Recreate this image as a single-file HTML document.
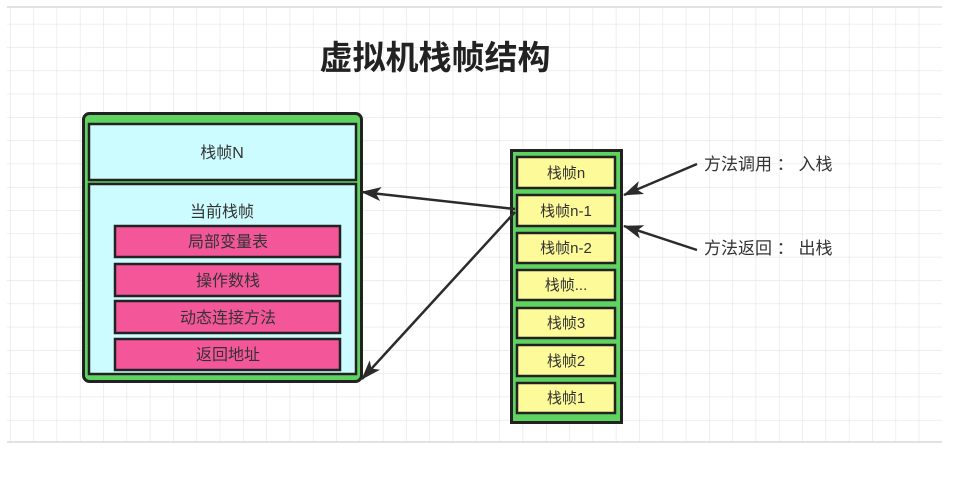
<!DOCTYPE html>
<html><head><meta charset="utf-8"><style>
body{margin:0;background:#fff;}
svg text{font-family:"Liberation Sans","Noto Sans CJK SC",sans-serif;}
</style></head><body>
<svg width="953" height="485" viewBox="0 0 953 485" xmlns="http://www.w3.org/2000/svg">
<defs>
<pattern id="g" x="10" y="0.5" width="23.3" height="23.3" patternUnits="userSpaceOnUse">
<path d="M0 0V23.3M0 0H23.3" stroke="#e4e4e4" stroke-width="1.2" fill="none"/>
</pattern>
<marker id="a" markerWidth="20" markerHeight="14" refX="19" refY="7" orient="auto" markerUnits="userSpaceOnUse" viewBox="0 0 20 14">
<path d="M0 0L20 7L0 14L5 7Z" fill="#2b2b2b"/>
</marker>
</defs>
<rect x="7" y="7" width="935" height="435" fill="url(#g)"/>
<line x1="7" y1="7" x2="942" y2="7" stroke="#d8d8d8" stroke-width="1.5"/>
<line x1="7" y1="442" x2="942" y2="442" stroke="#d8d8d8" stroke-width="1.5"/>
<text x="435" y="69" font-size="33" font-weight="bold" fill="#222" text-anchor="middle">虚拟机栈帧结构</text>

<rect x="83.5" y="113.5" width="278" height="268" rx="6" fill="#5fd35f" stroke="#222" stroke-width="3"/>
<rect x="89" y="124" width="267" height="56" fill="#ccfcff" stroke="#222" stroke-width="2.5"/>
<text x="222" y="158" font-size="16" fill="#333" text-anchor="middle">栈帧N</text>
<rect x="89" y="184" width="267" height="190" fill="#ccfcff" stroke="#222" stroke-width="2.5"/>
<text x="222" y="217" font-size="16" fill="#333" text-anchor="middle">当前栈帧</text>
<g stroke="#222" stroke-width="2.5" fill="#f4569a">
<rect x="115" y="226" width="225" height="31"/>
<rect x="115" y="264" width="225" height="32"/>
<rect x="115" y="301" width="225" height="32"/>
<rect x="115" y="339" width="225" height="31"/>
</g>
<g font-size="16" fill="#333" text-anchor="middle">
<text x="228" y="247">局部变量表</text>
<text x="228" y="286">操作数栈</text>
<text x="228" y="323">动态连接方法</text>
<text x="228" y="360">返回地址</text>
</g>

<rect x="511.5" y="150.5" width="110" height="272" fill="#5fd35f" stroke="#222" stroke-width="3"/>
<g stroke="#222" stroke-width="2.5" fill="#fdfa9a">
<rect x="517" y="157" width="98" height="31"/>
<rect x="517" y="195" width="98" height="31"/>
<rect x="517" y="233" width="98" height="30"/>
<rect x="517" y="270" width="98" height="30"/>
<rect x="517" y="308" width="98" height="30"/>
<rect x="517" y="345" width="98" height="31"/>
<rect x="517" y="383" width="98" height="30"/>
</g>
<g font-size="15" fill="#333" text-anchor="middle">
<text x="566" y="178">栈帧n</text>
<text x="566" y="216">栈帧n-1</text>
<text x="566" y="253">栈帧n-2</text>
<text x="566" y="290">栈帧...</text>
<text x="566" y="328">栈帧3</text>
<text x="566" y="366">栈帧2</text>
<text x="566" y="403">栈帧1</text>
</g>

<g stroke="#2b2b2b" stroke-width="2.5" fill="none">
<line x1="515" y1="209" x2="362" y2="192" marker-end="url(#a)"/>
<line x1="515" y1="212" x2="362" y2="379" marker-end="url(#a)"/>
<line x1="697" y1="164" x2="624" y2="195" marker-end="url(#a)"/>
<line x1="697" y1="250" x2="624" y2="226" marker-end="url(#a)"/>
</g>
<g font-size="17" fill="#333">
<text x="704" y="170">方法调用 ： 入栈</text>
<text x="704" y="254">方法返回 ： 出栈</text>
</g>
</svg>
</body></html>
